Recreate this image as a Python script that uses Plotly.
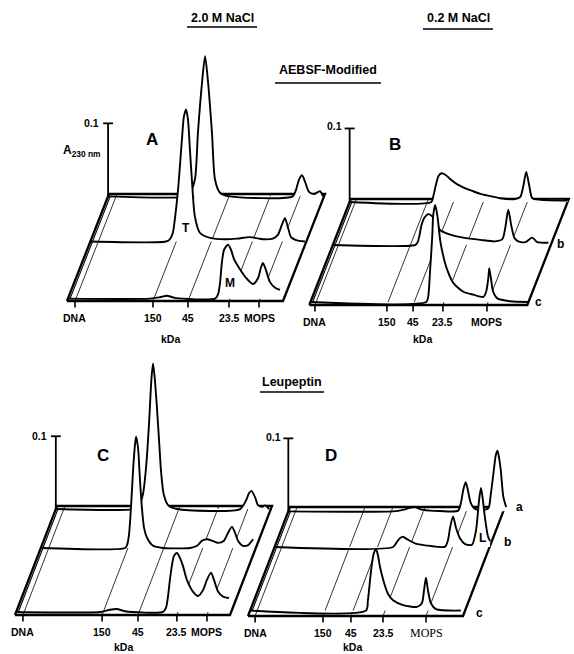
import plotly.graph_objects as go

FIG_W, FIG_H = 574, 654

# ---------------- DATA ----------------
tick_labels = ["DNA", "150", "45", "23.5", "MOPS"]
# marker positions on the relative elution axis (0-100) for each panel
ticks_A = [3.7, 39.8, 56.0, 75.0, 88.9]
ticks_B = [2.6, 35.6, 47.6, 61.3, 81.5]
ticks_C = [3.7, 40.5, 57.2, 75.3, 89.3]
ticks_D = [3.3, 34.9, 47.9, 62.8, 82.8]

# Panel A (AEBSF-modified, 2.0 M NaCl): rows a (back), b, c (front); A230 values
A_a_u = [0, 36, 37.9, 40.2, 41.6, 43.5, 44.9, 46.3, 48.1, 49.5, 51.8, 56.4, 85.5, 87.0, 88.4, 89.8, 91.2, 93.0, 95.3, 98.1, 99.5]
A_a_abs = [0, 0, 0.005, 0.023, 0.087, 0.156, 0.192, 0.156, 0.087, 0.023, 0.005, 0, 0, 0.009, 0.023, 0.029, 0.020, 0.006, 0.003, 0.007, 0]
A_b_u = [0, 35, 36.8, 38.2, 39.1, 40.6, 42.4, 43.3, 44.3, 45.2, 46.1, 47.0, 48.4, 50.7, 55.4, 62.3, 68, 73.9, 78, 80.8, 84.5, 86.8, 88.7, 90.1, 91.5, 92.9, 95.2, 99.3]
A_b_abs = [0, 0, 0.003, 0.012, 0.03, 0.071, 0.14, 0.171, 0.181, 0.167, 0.126, 0.085, 0.034, 0.012, 0.005, 0.003, 0.004, 0.006, 0.004, 0.003, 0.004, 0.009, 0.023, 0.032, 0.019, 0.006, 0.002, 0]
A_c_u = [0, 38, 42.6, 45.9, 49.6, 68.1, 69.5, 70.4, 71.3, 72.3, 74.1, 75.5, 76.9, 79.7, 82.9, 85.7, 88.0, 89.4, 90.3, 91.7, 93.5, 95.9, 98.2]
A_c_abs = [0, 0, 0.002, 0.004, 0.001, 0, 0.006, 0.021, 0.05, 0.067, 0.074, 0.067, 0.054, 0.04, 0.027, 0.02, 0.028, 0.043, 0.049, 0.039, 0.023, 0.015, 0.012]

# Panel B (AEBSF-modified, 0.2 M NaCl)
B_a_u = [0, 37.5, 38.4, 39.8, 40.7, 42.1, 43.9, 46.2, 49.4, 52.1, 56.3, 60.0, 64.5, 69.1, 76.0, 78.3, 79.7, 81.0, 82.4, 83.8, 87.5, 100]
B_a_abs = [0, 0, 0.008, 0.026, 0.035, 0.039, 0.037, 0.031, 0.024, 0.02, 0.015, 0.011, 0.008, 0.005, 0.004, 0.007, 0.022, 0.041, 0.022, 0.005, 0.003, 0.002]
B_b_u = [0, 37.8, 38.8, 39.7, 40.6, 42.0, 43.8, 45.6, 47.5, 49.3, 53.9, 59.9, 67.7, 74.5, 77.8, 79.1, 80.5, 81.9, 83.3, 85.1, 88.3, 91.5, 93.8, 98.9]
B_b_abs = [0, 0, 0.003, 0.012, 0.026, 0.037, 0.042, 0.039, 0.031, 0.02, 0.014, 0.01, 0.007, 0.005, 0.008, 0.023, 0.048, 0.026, 0.01, 0.005, 0.004, 0.01, 0.004, 0.003]
B_c_u = [0, 53.1, 54.0, 54.9, 55.9, 56.3, 57.2, 58.2, 59.5, 60.9, 62.7, 65.5, 70.1, 74.7, 79.3, 80.6, 81.6, 82.0, 82.9, 83.8, 85.7, 91.6, 100]
B_c_abs = [0, 0, 0.007, 0.044, 0.091, 0.118, 0.132, 0.118, 0.084, 0.063, 0.044, 0.026, 0.014, 0.01, 0.007, 0.014, 0.033, 0.046, 0.03, 0.014, 0.005, 0.001, 0]

# Panel C (Leupeptin, 2.0 M NaCl)
C_a_u = [0, 36, 38.5, 40.5, 42.0, 43.3, 44.5, 45.2, 46.0, 46.9, 48.0, 49.0, 50.2, 52.3, 56.4, 85.7, 88.5, 89.9, 91.0, 92.7, 94.1, 95.9, 97.3, 99.2]
C_a_abs = [0, 0, 0.004, 0.02, 0.058, 0.115, 0.18, 0.2, 0.18, 0.145, 0.095, 0.05, 0.02, 0.005, 0, 0, 0.012, 0.022, 0.025, 0.016, 0.005, 0.003, 0.005, 0]
C_b_u = [0, 39.2, 40.1, 41.0, 42.0, 42.9, 43.8, 44.3, 45.2, 46.1, 47.1, 48.0, 49.4, 52.2, 56.8, 69.4, 72.7, 75.0, 77.3, 79.6, 82.4, 85.2, 87.1, 88.9, 90.3, 91.7, 94.0, 96.4, 98.7]
C_b_abs = [0, 0, 0.004, 0.018, 0.059, 0.107, 0.142, 0.153, 0.138, 0.094, 0.052, 0.028, 0.014, 0.003, 0, 0, 0.003, 0.01, 0.012, 0.01, 0.007, 0.01, 0.021, 0.029, 0.021, 0.01, 0.003, 0.004, 0.012]
C_c_u = [0, 39, 43.6, 46.9, 50.6, 68.3, 69.7, 70.6, 71.5, 72.5, 73.4, 74.8, 76.2, 77.6, 79.4, 82.2, 84.6, 86.9, 88.7, 90.6, 92.0, 93.9, 96.2, 99.0]
C_c_abs = [0, 0, 0.003, 0.004, 0.001, 0, 0.006, 0.021, 0.044, 0.065, 0.077, 0.081, 0.074, 0.063, 0.044, 0.028, 0.022, 0.03, 0.044, 0.054, 0.044, 0.028, 0.021, 0.019]

# Panel D (Leupeptin, 0.2 M NaCl)
D_a_u = [0, 48.7, 53.3, 56.6, 58.9, 62.7, 70.5, 79.0, 80.3, 81.4, 82.5, 83.6, 84.8, 86.5, 89.0, 93.0, 94.1, 95.4, 96.5, 97.3, 98.1, 98.8, 100.0, 101.3]
D_a_abs = [0, 0, 0.002, 0.005, 0.0055, 0.002, 0.0005, 0.001, 0.012, 0.03, 0.04, 0.028, 0.012, 0.004, 0.002, 0.004, 0.022, 0.052, 0.077, 0.083, 0.072, 0.057, 0.02, 0.006]
D_b_u = [0, 55.1, 56.9, 58.3, 59.7, 62.0, 65.3, 72.3, 79.3, 80.7, 81.6, 83.0, 84.4, 86.2, 88.6, 91.8, 93.7, 95.1, 96.0, 96.9, 97.8, 99.2, 100.2]
D_b_abs = [0, 0, 0.007, 0.012, 0.014, 0.01, 0.005, 0.0015, 0.0005, 0.01, 0.026, 0.042, 0.026, 0.012, 0.004, 0.003, 0.023, 0.064, 0.081, 0.064, 0.041, 0.015, 0.008]
D_c_u = [0, 53.9, 54.8, 55.8, 56.7, 57.6, 58.6, 59.5, 60.4, 62.3, 64.1, 66.5, 71.1, 77.6, 79.9, 80.9, 81.8, 82.7, 84.1, 86.4, 98.0]
D_c_abs = [0, 0, 0.014, 0.042, 0.065, 0.079, 0.084, 0.075, 0.06, 0.038, 0.023, 0.014, 0.0075, 0.005, 0.01, 0.028, 0.045, 0.028, 0.01, 0.002, 0]

ELUTION_RANGE = (0, 100)
SCALE_MARK = 0.1  # A230 scale bar

# ---------------- GEOMETRY (layout only) ----------------
# x0,y0: front-left corner (px); k: px per elution unit; s: px per absorbance unit
# dx,dy: pixel offset of the back row (oblique depth); depths of rows a,b,c
geoms = {
    "A": dict(x0=67, y0=301, k=2.16, s=730, dx=42, dy=107, depths=(0.978, 0.556, 0.022)),
    "B": dict(x0=309.3, y0=305, k=2.18, s=735, dx=41.5, dy=106, depths=(0.972, 0.566, 0.028)),
    "C": dict(x0=15, y0=615, k=2.15, s=728, dx=42, dy=109, depths=(0.972, 0.615, 0.028)),
    "D": dict(x0=248, y0=616, k=2.15, s=730, dx=42, dy=109, depths=(0.96, 0.633, 0.05)),
}

panels = [
    ("A", ticks_A, [(A_a_u, A_a_abs), (A_b_u, A_b_abs), (A_c_u, A_c_abs)]),
    ("B", ticks_B, [(B_a_u, B_a_abs), (B_b_u, B_b_abs), (B_c_u, B_c_abs)]),
    ("C", ticks_C, [(C_a_u, C_a_abs), (C_b_u, C_b_abs), (C_c_u, C_c_abs)]),
    ("D", ticks_D, [(D_a_u, D_a_abs), (D_b_u, D_b_abs), (D_c_u, D_c_abs)]),
]

FONT = "Liberation Sans, Arial, sans-serif"


def proj(g, u, a, d):
    """oblique projection of (elution, absorbance, depth) into the panel's data space"""
    return u + d * g["dx"] / g["k"], a + d * g["dy"] / g["s"]


def segs(g, pts):
    xs, ys = [], []
    for seg in pts:
        for (u, a, d) in seg:
            x, y = proj(g, u, a, d)
            xs.append(x)
            ys.append(y)
        xs.append(None)
        ys.append(None)
    return xs, ys


fig = go.Figure()
annotations = []
layout_axes = {}

for i, (name, ticks, rows) in enumerate(panels):
    g = geoms[name]
    n = "" if i == 0 else str(i + 1)
    xa, ya = "x" + n, "y" + n
    common = dict(xaxis=xa, yaxis=ya, hoverinfo="skip", showlegend=False, mode="lines")
    u0, u1 = ELUTION_RANGE
    da, db, dc = g["depths"]

    # floor frame
    xs, ys = segs(g, [[(u0, 0, 0), (u1, 0, 0), (u1, 0, 1), (u0, 0, 1), (u0, 0, 0)]])
    fig.add_trace(go.Scatter(x=xs, y=ys, line=dict(color="black", width=2.3), **common))
    xs, ys = segs(g, [[(u0 + 1.0, 0, dc), (u0 + 1.0, 0, da)]])
    fig.add_trace(go.Scatter(x=xs, y=ys, line=dict(color="black", width=1.1), **common))
    # marker gridlines on the floor
    xs, ys = segs(g, [[(t, 0, 0), (t, 0, 1)] for t in ticks])
    fig.add_trace(go.Scatter(x=xs, y=ys, line=dict(color="black", width=0.8), **common))
    # tick marks
    xs, ys = segs(g, [[(t, 0, 0), (t, -0.009, 0)] for t in ticks])
    fig.add_trace(go.Scatter(x=xs, y=ys, line=dict(color="black", width=1.6), **common))
    # absorbance scale bar
    xs, ys = segs(g, [[(u0, 0, da), (u0, SCALE_MARK, da)],
                      [(u0 - 2.3, SCALE_MARK, da), (u0 + 2.3, SCALE_MARK, da)]])
    fig.add_trace(go.Scatter(x=xs, y=ys, line=dict(color="black", width=1.8), **common))

    # chromatograms, back to front, each with a white curtain for hidden lines
    for (uu, aa), d in zip(rows, g["depths"]):
        cx, cy = zip(*[proj(g, u, a, d) for u, a in zip(uu, aa)])
        bx0, by0 = proj(g, uu[-1], 0, d)
        fx = list(cx) + [bx0]
        fy = list(cy) + [by0]
        fig.add_trace(go.Scatter(x=fx, y=fy, fill="toself", fillcolor="white",
                                 line=dict(width=0, shape="spline", smoothing=0.7),
                                 **common))
        fig.add_trace(go.Scatter(x=list(cx), y=list(cy),
                                 line=dict(color="black", width=1.9, shape="spline", smoothing=0.7),
                                 **common))

    # tick labels
    for t, lab in zip(ticks, tick_labels):
        serif = (name == "D" and lab == "MOPS")
        annotations.append(dict(
            x=t, y=0, xref=xa, yref=ya, showarrow=False, yshift=-17,
            xanchor="center", yanchor="middle",
            text=lab if serif else "<b>%s</b>" % lab,
            font=dict(family="Liberation Serif, Times New Roman, serif" if serif else FONT,
                      size=12 if serif else 10.5, color="black")))

    layout_axes["xaxis" + n] = dict(domain=[0, 1], range=[-g["x0"] / g["k"], (FIG_W - g["x0"]) / g["k"]],
                                    visible=False, anchor=ya, fixedrange=True)
    layout_axes["yaxis" + n] = dict(domain=[0, 1], range=[(g["y0"] - FIG_H) / g["s"], g["y0"] / g["s"]],
                                    visible=False, anchor=xa, fixedrange=True)


def txt(x, y, text, size=11, anchor="center", family=FONT):
    annotations.append(dict(x=x / FIG_W, y=1 - y / FIG_H, xref="paper", yref="paper",
                            text=text, showarrow=False, xanchor=anchor, yanchor="middle",
                            font=dict(family=family, size=size, color="black")))


# titles
txt(222, 18, "<b>2.0 M NaCl</b>", 12.5)
txt(458, 18, "<b>0.2 M NaCl</b>", 12.5)
txt(328, 70, "<b>AEBSF-Modified</b>", 12.5)
txt(292, 382, "<b>Leupeptin</b>", 12.5)
# panel letters
txt(152, 139, "<b>A</b>", 17)
txt(395, 144, "<b>B</b>", 17)
txt(103, 455, "<b>C</b>", 17)
txt(331, 455, "<b>D</b>", 17)
# scale labels
txt(101, 123, "<b>0.1</b>", 10.5, "right")
txt(344, 126, "<b>0.1</b>", 10.5, "right")
txt(49, 436, "<b>0.1</b>", 10.5, "right")
txt(283, 437, "<b>0.1</b>", 10.5, "right")
txt(103, 151, "<b>A<sub>230 nm</sub></b>", 12, "right")
# row labels
txt(186, 228, "<b>T</b>", 12)
txt(230, 283, "<b>M</b>", 12)
txt(560, 244, "<b>b</b>", 12)
txt(538, 302, "<b>c</b>", 12)
txt(519, 507, "<b>a</b>", 12)
txt(507, 542, "<b>b</b>", 12)
txt(479, 613, "<b>c</b>", 12)
txt(482, 538, "<b>L</b>", 12)
# axis titles
txt(170, 339, "<b>kDa</b>", 10.5)
txt(422, 339, "<b>kDa</b>", 10.5)
txt(123, 647, "<b>kDa</b>", 10.5)
txt(352, 647, "<b>kDa</b>", 10.5)

shapes = []
for (xa0, xa1, yy) in [(187, 257, 27), (423, 493, 29), (275, 381, 83), (260, 324, 392)]:
    shapes.append(dict(type="line", xref="paper", yref="paper",
                       x0=xa0 / FIG_W, x1=xa1 / FIG_W, y0=1 - yy / FIG_H, y1=1 - yy / FIG_H,
                       line=dict(color="black", width=1.6)))

fig.update_layout(width=FIG_W, height=FIG_H, margin=dict(l=0, r=0, t=0, b=0),
                  paper_bgcolor="white", plot_bgcolor="rgba(0,0,0,0)",
                  annotations=annotations, shapes=shapes, showlegend=False,
                  **layout_axes)

fig.write_html("out.html", config={"displayModeBar": False, "staticPlot": True},
               post_script="document.body.style.margin='0';document.body.style.overflow='hidden';")
